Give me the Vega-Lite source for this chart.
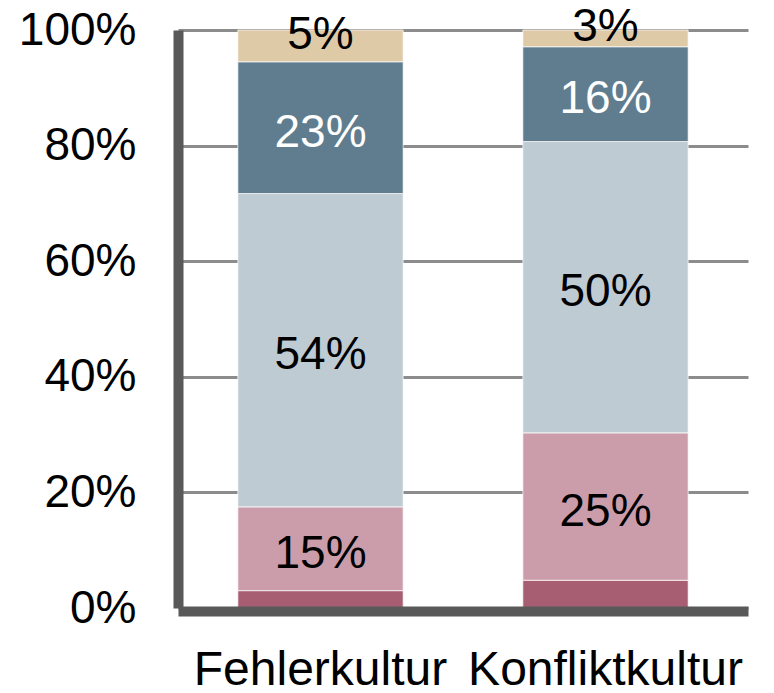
{
  "$schema": "https://vega.github.io/schema/vega-lite/v6.json",
  "width": 570,
  "height": 578,
  "autosize": "none",
  "padding": {"left": 178, "top": 30, "right": 26, "bottom": 85},
  "background": "white",
  "config": {"view": {"stroke": null}, "font": "Liberation Sans"},
  "data": {
    "values": [
      {"kultur": "Fehlerkultur", "seg": "k1", "rank": 1, "value": 3.0, "label": ""},
      {"kultur": "Fehlerkultur", "seg": "k2", "rank": 2, "value": 14.5, "label": "15%"},
      {"kultur": "Fehlerkultur", "seg": "k3", "rank": 3, "value": 54.2, "label": "54%"},
      {"kultur": "Fehlerkultur", "seg": "k4", "rank": 4, "value": 22.8, "label": "23%"},
      {"kultur": "Fehlerkultur", "seg": "k5", "rank": 5, "value": 5.5, "label": "5%"},
      {"kultur": "Konfliktkultur", "seg": "k1", "rank": 1, "value": 4.8, "label": ""},
      {"kultur": "Konfliktkultur", "seg": "k2", "rank": 2, "value": 25.5, "label": "25%"},
      {"kultur": "Konfliktkultur", "seg": "k3", "rank": 3, "value": 50.4, "label": "50%"},
      {"kultur": "Konfliktkultur", "seg": "k4", "rank": 4, "value": 16.4, "label": "16%"},
      {"kultur": "Konfliktkultur", "seg": "k5", "rank": 5, "value": 2.9, "label": "3%"}
    ]
  },
  "encoding": {
    "x": {
      "field": "kultur",
      "type": "nominal",
      "sort": null,
      "scale": {"paddingInner": 0.42, "paddingOuter": 0.21},
      "axis": {
        "title": null,
        "tickSize": 0,
        "labelPadding": 35,
        "labelFontSize": 48,
        "labelFont": "Liberation Sans",
        "labelAngle": 0,
        "labelColor": "black",
        "labelLimit": 0,
        "labelOverlap": false,
        "domainColor": "#595959",
        "domainWidth": 10,
        "offset": 3,
        "zindex": 1
      }
    }
  },
  "layer": [
    {
      "mark": {"type": "bar", "stroke": "white", "strokeWidth": 0.7},
      "encoding": {
        "y": {
          "field": "value",
          "type": "quantitative",
          "stack": "zero",
          "scale": {"domain": [0, 100]},
          "axis": {
            "title": null,
            "values": [0, 20, 40, 60, 80, 100],
            "labelExpr": "datum.value + '%'",
            "tickSize": 0,
            "labelPadding": 42,
            "labelFontSize": 46,
            "labelFont": "Liberation Sans",
            "labelColor": "black",
            "labelOverlap": false,
            "domainColor": "#595959",
            "domainWidth": 10,
            "gridColor": "#8c8c8c",
            "gridWidth": 3
          }
        },
        "color": {
          "field": "seg",
          "type": "nominal",
          "scale": {
            "domain": ["k1", "k2", "k3", "k4", "k5"],
            "range": ["#a75e72", "#cb9daa", "#bfcbd3", "#5f7d8f", "#dfcaa8"]
          },
          "legend": null
        },
        "order": {"field": "rank", "type": "quantitative"}
      }
    },
    {
      "mark": {"type": "text", "fontSize": 46, "dy": 5, "font": "Liberation Sans"},
      "encoding": {
        "y": {"field": "value", "type": "quantitative", "stack": "zero", "bandPosition": 0.5},
        "detail": {"field": "seg", "type": "nominal"},
        "order": {"field": "rank", "type": "quantitative"},
        "text": {"condition": {"test": "datum.seg !== 'k5'", "field": "label", "type": "nominal"}, "value": ""},
        "color": {"condition": {"test": "datum.seg === 'k4'", "value": "white"}, "value": "black"}
      }
    },
    {
      "mark": {"type": "text", "fontSize": 46, "dy": -11, "font": "Liberation Sans"},
      "encoding": {
        "y": {"field": "value", "type": "quantitative", "stack": "zero", "bandPosition": 0.5},
        "detail": {"field": "seg", "type": "nominal"},
        "order": {"field": "rank", "type": "quantitative"},
        "text": {"condition": {"test": "datum.seg === 'k5'", "field": "label", "type": "nominal"}, "value": ""},
        "color": {"value": "black"}
      }
    }
  ]
}
